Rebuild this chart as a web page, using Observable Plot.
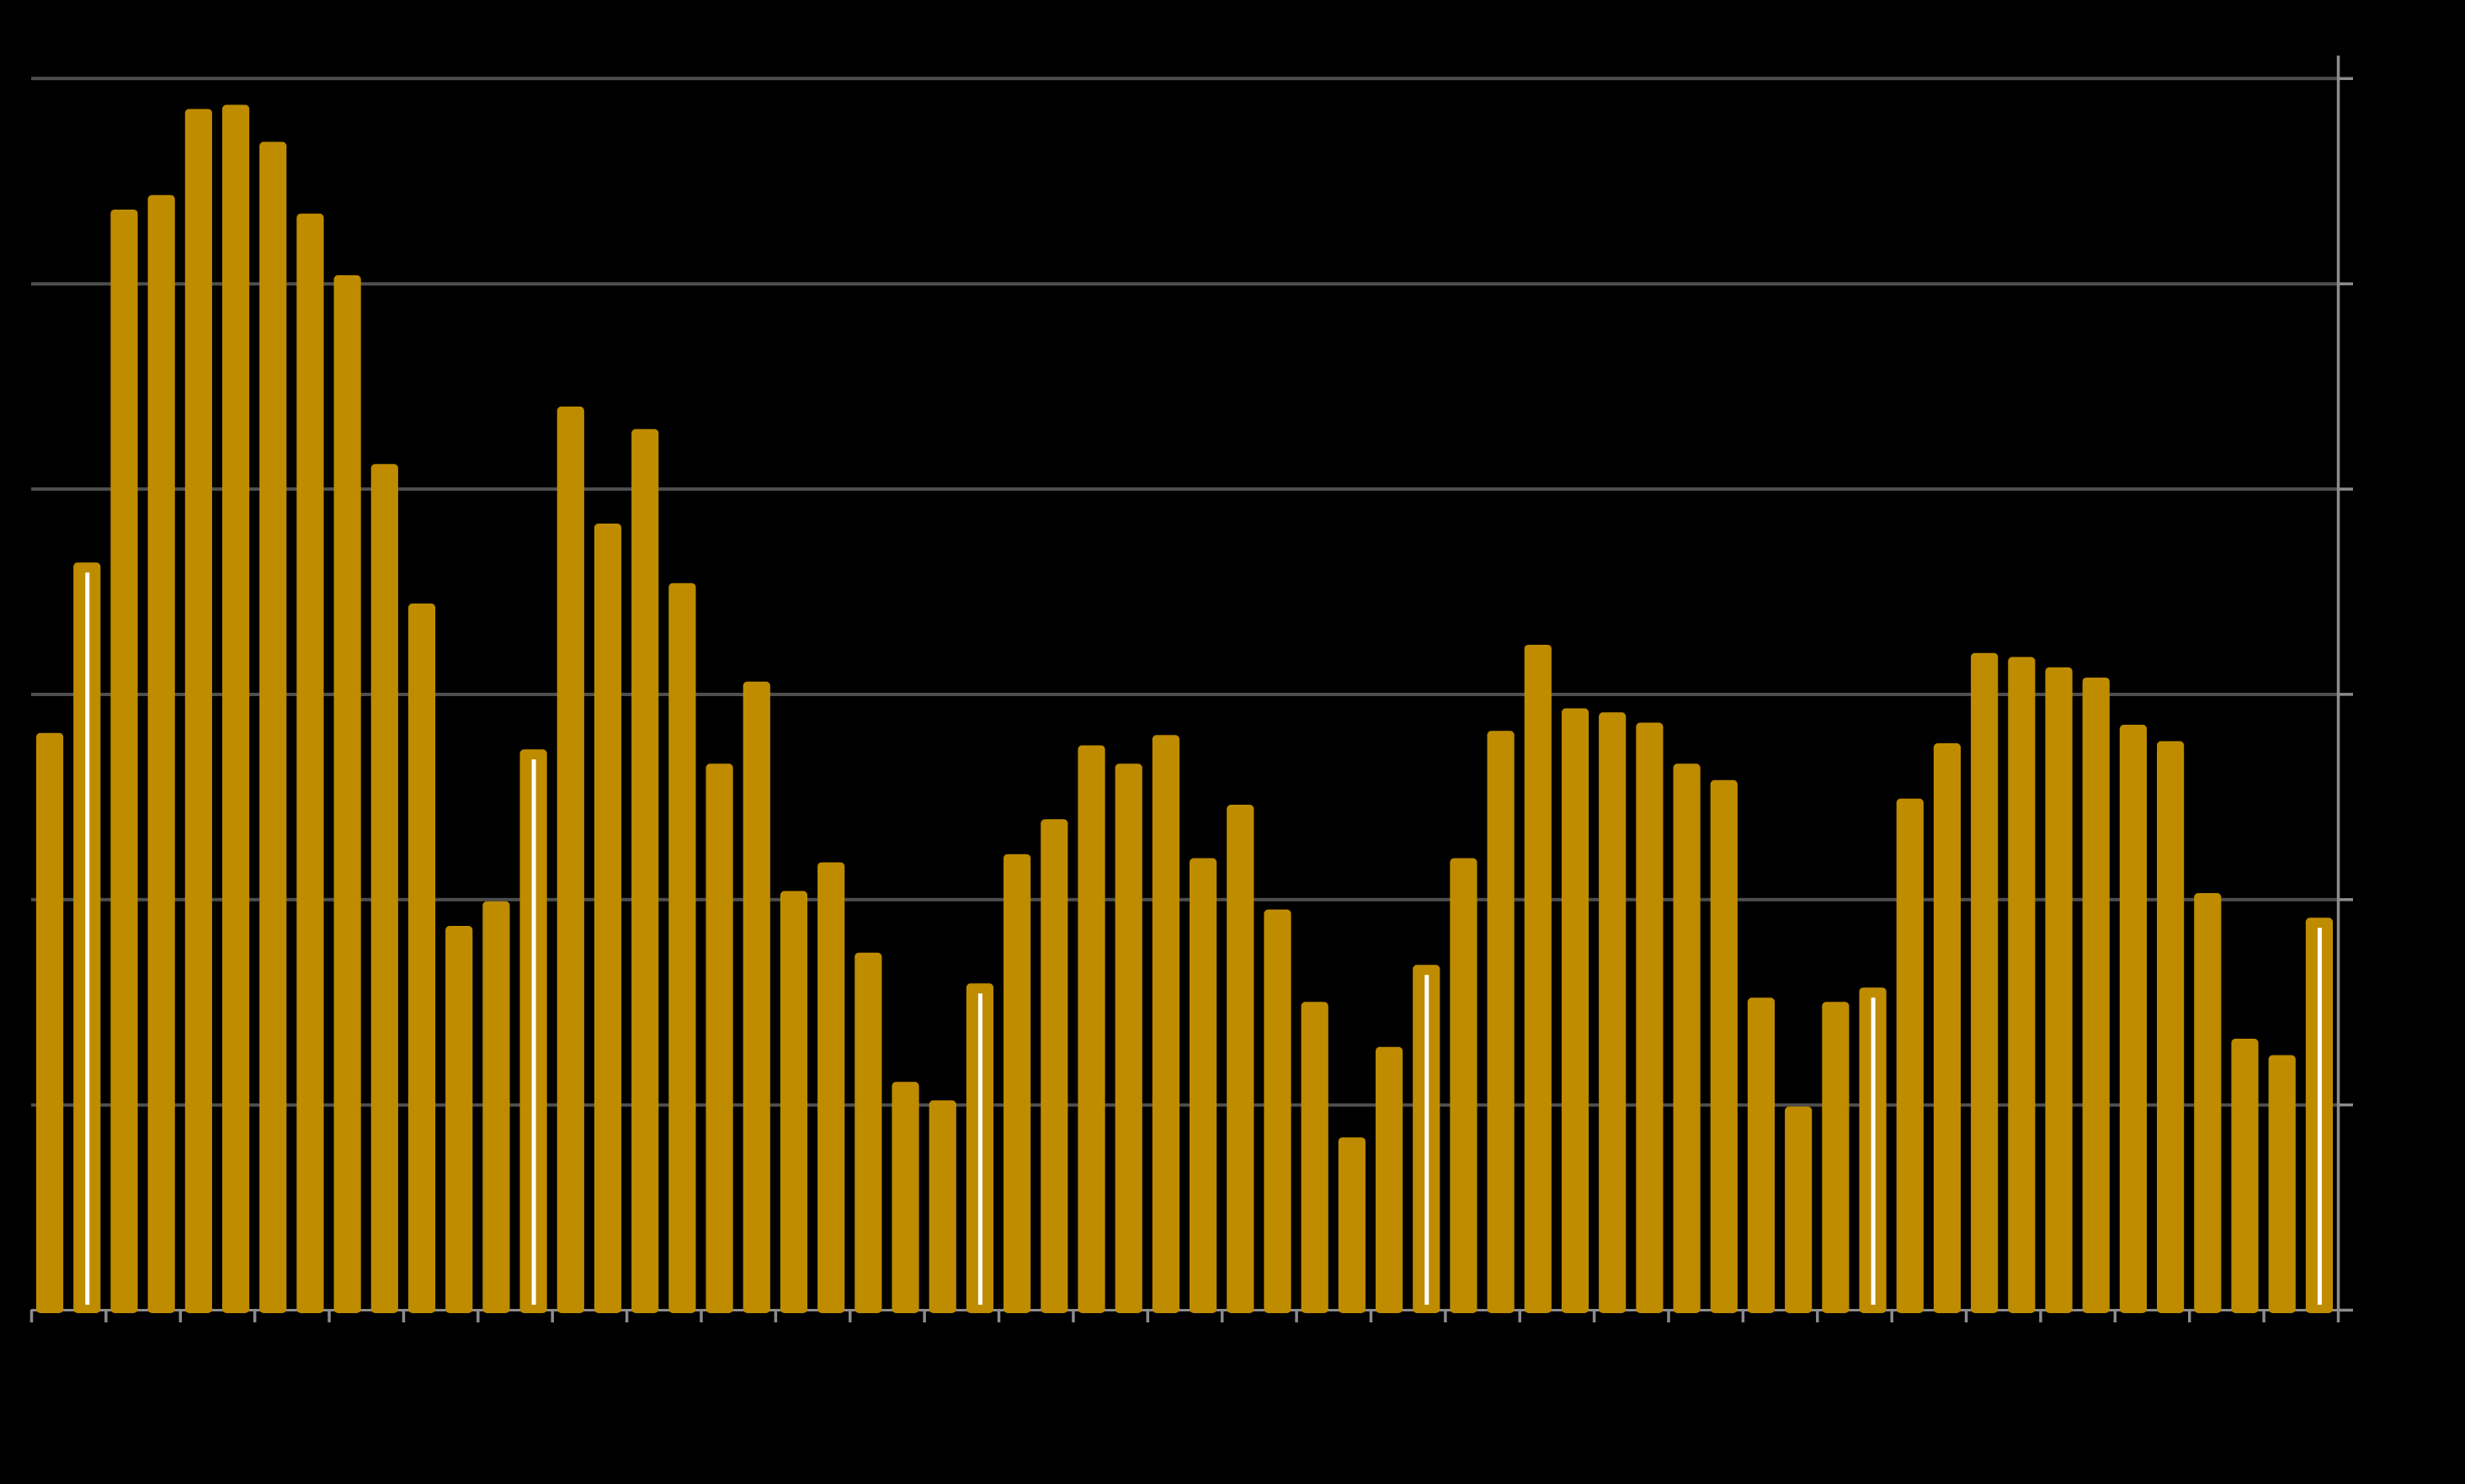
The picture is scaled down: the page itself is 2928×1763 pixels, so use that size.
<!DOCTYPE html>
<html>
<head>
<meta charset="utf-8">
<script src="https://cdn.jsdelivr.net/npm/d3@7"></script>
<script src="https://cdn.jsdelivr.net/npm/@observablehq/plot@0.6"></script>
<style>
  html, body { margin: 0; padding: 0; background: #000; overflow: hidden; }
  #chart svg { display: block; }
</style>
</head>
<body>
<div id="chart"></div>
<script>
// Months (categories), one bar each
const months = [
  "2019-12",
  "2020-01","2020-02","2020-03","2020-04","2020-05","2020-06","2020-07","2020-08","2020-09","2020-10","2020-11","2020-12",
  "2021-01","2021-02","2021-03","2021-04","2021-05","2021-06","2021-07","2021-08","2021-09","2021-10","2021-11","2021-12",
  "2022-01","2022-02","2022-03","2022-04","2022-05","2022-06","2022-07","2022-08","2022-09","2022-10","2022-11","2022-12",
  "2023-01","2023-02","2023-03","2023-04","2023-05","2023-06","2023-07","2023-08","2023-09","2023-10","2023-11","2023-12",
  "2024-01","2024-02","2024-03","2024-04","2024-05","2024-06","2024-07","2024-08","2024-09","2024-10","2024-11","2024-12",
  "2025-01"
];

// Bar values (grid step = 10)
const values = [
  28.1,
  36.4, 53.6, 54.3, 58.5, 58.7, 56.9, 53.4, 50.4, 41.2, 34.4, 18.7, 19.9,
  27.3, 44.0, 38.3, 42.9, 35.4, 26.6, 30.6, 20.4, 21.8, 17.4, 11.1, 10.2,
  15.9, 22.2, 23.9, 27.5, 26.6, 28.0, 22.0, 24.6, 19.5, 15.0, 8.4, 12.8,
  16.8, 22.0, 28.2, 32.4, 29.3, 29.1, 28.6, 26.6, 25.8, 15.2, 9.9, 15.0,
  15.7, 24.9, 27.6, 32.0, 31.8, 31.3, 30.8, 28.5, 27.7, 20.3, 13.2, 12.4,
  19.1
];

// Y gridline / tick values
const yTicks = [0, 10, 20, 30, 40, 50, 60];
const yMax = 61.1;

const data = months.map((m, i) => ({i, month: m, value: values[i]}));
const xTicks = d3.range(0, months.length + 1, 2);
const januaries = data.filter(d => d.month.endsWith("-01"));

const chart = Plot.plot({
  width: 2928,
  height: 1763,
  marginLeft: 37,
  marginRight: 151,
  marginTop: 66,
  marginBottom: 207,
  style: {background: "#000", color: "#8c8c8c"},
  x: {type: "linear", domain: [0, months.length], axis: null},
  y: {domain: [0, yMax], axis: null},
  marks: [
    Plot.ruleY(yTicks.slice(1), {stroke: "#4e4e4e", strokeWidth: 4}),
    Plot.ruleY([0], {stroke: "#8c8c8c", strokeWidth: 3}),
    Plot.ruleX([months.length], {y1: 0, y2: yMax, stroke: "#8c8c8c", strokeWidth: 3.5}),
    Plot.axisY({anchor: "right", ticks: yTicks, tickSize: 17, tickFormat: () => "", label: null, stroke: "#8c8c8c", strokeWidth: 3.5}),
    Plot.axisX({anchor: "bottom", ticks: xTicks, tickSize: 15, tickFormat: () => "", label: null, stroke: "#8c8c8c", strokeWidth: 3.5}),
    Plot.rectY(data, {
      x1: "i",
      x2: d => d.i + 1,
      y1: 0,
      y2: "value",
      fill: "#bf8c00",
      insetLeft: 6,
      insetRight: 6,
      insetBottom: -4,
      rx: 5
    }),
    Plot.ruleX(januaries, {
      x: d => d.i + 0.5,
      y1: "value",
      y2: 0,
      stroke: "#ffffff",
      strokeWidth: 5,
      insetTop: 12,
      insetBottom: 6
    })
  ]
});

document.getElementById("chart").appendChild(chart);
</script>
</body>
</html>
